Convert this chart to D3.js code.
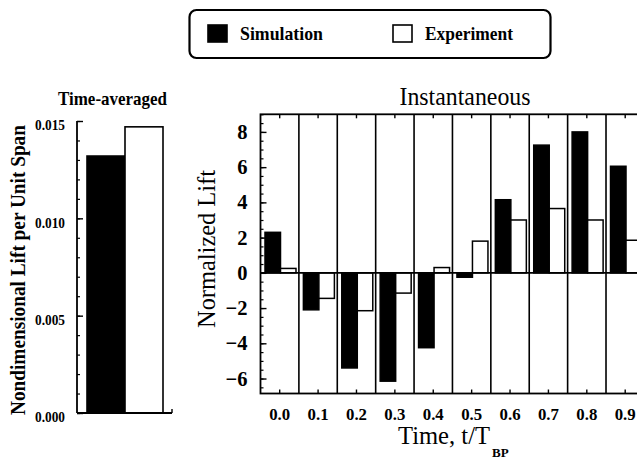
<!DOCTYPE html>
<html>
<head>
<meta charset="utf-8">
<script src="https://cdn.jsdelivr.net/npm/d3@7/dist/d3.min.js"></script>
<style>
  html, body { margin: 0; padding: 0; background: #fff; }
  svg { display: block; font-family: "Liberation Serif", "Times New Roman", serif; }
</style>
</head>
<body>
<svg id="chart" width="637" height="460"></svg>
<script>
// Series shown in both panels
const seriesNames = ["Simulation", "Experiment"];
const seriesFill = ["#000", "#fff"];

// Time-averaged lift (nondimensional, per unit span)
const averagedLift = [0.0132, 0.0147];
const averagedTicks = [0, 0.005, 0.010, 0.015];

// Instantaneous normalized lift over one period
const times = ["0.0", "0.1", "0.2", "0.3", "0.4", "0.5", "0.6", "0.7", "0.8", "0.9"];
const simulationLift = [2.3, -2.1, -5.4, -6.15, -4.25, -0.25, 4.15, 7.25, 8.0, 6.05];
const experimentLift = [0.25, -1.45, -2.15, -1.15, 0.3, 1.8, 3.0, 3.65, 3.0, 1.85];
const liftTicks = [-6, -4, -2, 0, 2, 4, 6, 8];

const svg = d3.select("#chart");
const ink = "#000";

// ---------- Legend ----------
const legend = svg.append("g");
legend.append("rect")
  .attr("x", 189.5).attr("y", 10).attr("width", 361).attr("height", 48)
  .attr("rx", 7).attr("fill", "#fff").attr("stroke", ink).attr("stroke-width", 2.2);
const legendX = d3.scaleOrdinal().domain(seriesNames).range([208, 393]);
const legendTextLen = [83, 88];
seriesNames.forEach((name, i) => {
  const lx = legendX(name);
  legend.append("rect")
    .attr("x", lx).attr("y", 25).attr("width", 19).attr("height", 17)
    .attr("fill", seriesFill[i]).attr("stroke", ink).attr("stroke-width", 1.6);
  legend.append("text")
    .attr("x", lx + 32).attr("y", 39.5)
    .attr("font-size", 19).attr("font-weight", "bold")
    .attr("textLength", legendTextLen[i]).attr("lengthAdjust", "spacingAndGlyphs")
    .text(name);
});

// ---------- Left panel: time-averaged ----------
const yL = d3.scaleLinear().domain([0, 0.015]).range([413, 121]);
const xL = d3.scaleBand().domain(seriesNames).range([87, 163]).padding(0);
const left = svg.append("g");

left.selectAll("rect.avg")
  .data(seriesNames.map((s, i) => ({ s, v: averagedLift[i], f: seriesFill[i] })))
  .join("rect")
  .attr("class", "avg")
  .attr("x", d => xL(d.s))
  .attr("y", d => yL(d.v))
  .attr("width", xL.bandwidth())
  .attr("height", d => yL(0) - yL(d.v))
  .attr("fill", d => d.f)
  .attr("stroke", ink).attr("stroke-width", 1.6);

// minor ticks
left.append("g")
  .attr("transform", "translate(77,0)")
  .call(d3.axisLeft(yL).tickValues(d3.range(0, 0.0155, 0.001)).tickSize(-3).tickFormat(""))
  .call(g => g.select(".domain").remove())
  .call(g => g.selectAll("line").attr("stroke", ink).attr("stroke-width", 1.2));

// major ticks and labels
left.append("g")
  .attr("transform", "translate(77,0)")
  .call(d3.axisLeft(yL).tickValues(averagedTicks).tickSize(-6).tickPadding(12).tickFormat(d3.format(".3f")))
  .call(g => g.select(".domain").remove())
  .call(g => g.selectAll("line").attr("stroke", ink).attr("stroke-width", 1.4))
  .call(g => g.selectAll("text")
    .attr("font-family", "Liberation Serif").attr("font-size", 15)
    .attr("font-weight", "bold").attr("fill", ink)
    .attr("textLength", 30).attr("lengthAdjust", "spacingAndGlyphs")
    .attr("transform", "translate(0,4)"));

// axis lines
left.append("line").attr("x1", 77).attr("x2", 77).attr("y1", yL(0.015)).attr("y2", yL(0))
  .attr("stroke", ink).attr("stroke-width", 1.8);
left.append("line").attr("x1", 77).attr("x2", 172).attr("y1", yL(0)).attr("y2", yL(0))
  .attr("stroke", ink).attr("stroke-width", 1.8);
left.append("line").attr("x1", 172).attr("x2", 172).attr("y1", yL(0)).attr("y2", yL(0) - 4)
  .attr("stroke", ink).attr("stroke-width", 1.4);

left.append("text")
  .attr("x", 112.5).attr("y", 105).attr("text-anchor", "middle")
  .attr("font-size", 19.5).attr("font-weight", "bold")
  .attr("textLength", 109).attr("lengthAdjust", "spacingAndGlyphs")
  .text("Time-averaged");

left.append("text")
  .attr("transform", "translate(25,270) rotate(-90)")
  .attr("text-anchor", "middle")
  .attr("font-size", 22).attr("font-weight", "bold")
  .attr("textLength", 290).attr("lengthAdjust", "spacingAndGlyphs")
  .text("Nondimensional Lift per Unit Span");

// ---------- Right panel: instantaneous ----------
const x = d3.scaleBand().domain(times).range([260.5, 644.4]).padding(0);
const sub = d3.scaleBand().domain(seriesNames).range([4.5, 35.5]).padding(0);
const y = d3.scaleLinear().domain([-6.85, 9.0]).range([393.5, 114.3]);
const right = svg.append("g");

const barData = [];
times.forEach((t, i) => {
  barData.push({ t, s: seriesNames[0], v: simulationLift[i], f: seriesFill[0] });
  barData.push({ t, s: seriesNames[1], v: experimentLift[i], f: seriesFill[1] });
});

right.selectAll("rect.bar")
  .data(barData)
  .join("rect")
  .attr("class", "bar")
  .attr("x", d => x(d.t) + sub(d.s))
  .attr("y", d => y(Math.max(0, d.v)))
  .attr("width", sub.bandwidth())
  .attr("height", d => Math.abs(y(d.v) - y(0)))
  .attr("fill", d => d.f)
  .attr("stroke", ink).attr("stroke-width", 1.5);

// band separators
right.selectAll("line.sep")
  .data(times.slice(1))
  .join("line")
  .attr("class", "sep")
  .attr("x1", d => x(d)).attr("x2", d => x(d))
  .attr("y1", y.range()[1]).attr("y2", y.range()[0])
  .attr("stroke", ink).attr("stroke-width", 1.6);

// frame
right.append("rect")
  .attr("x", x.range()[0]).attr("y", y.range()[1])
  .attr("width", x.range()[1] - x.range()[0])
  .attr("height", y.range()[0] - y.range()[1])
  .attr("fill", "none").attr("stroke", ink).attr("stroke-width", 1.8);

// zero line
right.append("line")
  .attr("x1", x.range()[0]).attr("x2", x.range()[1])
  .attr("y1", y(0)).attr("y2", y(0))
  .attr("stroke", ink).attr("stroke-width", 1.8);

// minor y ticks
right.append("g")
  .attr("transform", `translate(${x.range()[0]},0)`)
  .call(d3.axisLeft(y).tickValues(d3.range(-6.5, 9.01, 0.5)).tickSize(-3).tickFormat(""))
  .call(g => g.select(".domain").remove())
  .call(g => g.selectAll("line").attr("stroke", ink).attr("stroke-width", 1.2));

// major y ticks and labels
right.append("g")
  .attr("transform", `translate(${x.range()[0]},0)`)
  .call(d3.axisLeft(y).tickValues(liftTicks).tickSize(-6).tickPadding(13).tickFormat(d3.format("d")))
  .call(g => g.select(".domain").remove())
  .call(g => g.selectAll("line").attr("stroke", ink).attr("stroke-width", 1.4))
  .call(g => g.selectAll("text")
    .attr("font-family", "Liberation Serif").attr("font-size", 20.5)
    .attr("font-weight", "bold").attr("fill", ink));

// bottom ticks and category labels
right.append("g")
  .attr("transform", `translate(0,${y.range()[0]})`)
  .call(d3.axisBottom(x).tickSize(-4).tickPadding(14))
  .call(g => g.select(".domain").remove())
  .call(g => g.selectAll("line").attr("stroke", ink).attr("stroke-width", 1.4))
  .call(g => g.selectAll("text")
    .attr("font-family", "Liberation Serif").attr("font-size", 17.5)
    .attr("font-weight", "bold").attr("fill", ink)
    .attr("textLength", 21).attr("lengthAdjust", "spacingAndGlyphs"));

// top ticks
right.append("g")
  .attr("transform", `translate(0,${y.range()[1]})`)
  .call(d3.axisTop(x).tickSize(-4).tickFormat(""))
  .call(g => g.select(".domain").remove())
  .call(g => g.selectAll("line").attr("stroke", ink).attr("stroke-width", 1.4));

right.append("text")
  .attr("x", 465).attr("y", 105).attr("text-anchor", "middle")
  .attr("font-size", 25)
  .attr("textLength", 131).attr("lengthAdjust", "spacingAndGlyphs")
  .text("Instantaneous");

right.append("text")
  .attr("transform", "translate(215,249) rotate(-90)")
  .attr("text-anchor", "middle")
  .attr("font-size", 25)
  .attr("textLength", 158).attr("lengthAdjust", "spacingAndGlyphs")
  .text("Normalized Lift");

right.append("text")
  .attr("x", 398).attr("y", 444)
  .attr("font-size", 25)
  .attr("textLength", 92).attr("lengthAdjust", "spacingAndGlyphs")
  .text("Time, t/T");
right.append("text")
  .attr("x", 492).attr("y", 457)
  .attr("font-size", 13).attr("font-weight", "bold")
  .text("BP");
</script>
</body>
</html>
